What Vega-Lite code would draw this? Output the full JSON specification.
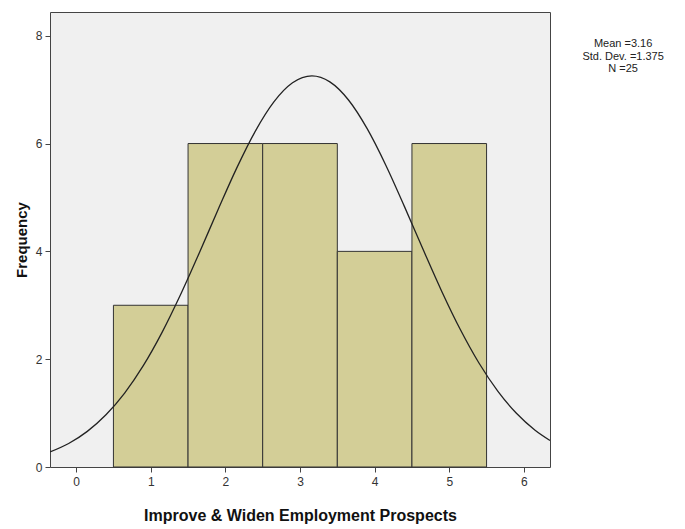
{
  "$schema": "https://vega.github.io/schema/vega-lite/v6.json",
  "width": 500,
  "height": 455,
  "autosize": {"type": "none"},
  "padding": {"left": 50, "top": 12, "right": 135, "bottom": 62},
  "background": "white",
  "config": {
    "view": {"fill": "#F0F0F0", "stroke": "#444444", "strokeWidth": 1},
    "font": "Liberation Sans",
    "axis": {"grid": false, "domain": false, "tickColor": "#444444", "tickSize": 5, "labelColor": "#333333", "labelFontSize": 12, "labelFont": "Liberation Sans", "titleFont": "Liberation Sans", "titleFontWeight": "bold", "titleColor": "#111111", "format": "d"}
  },
  "datasets": {
    "bins": [
      {"bin_start": 0.5, "bin_end": 1.5, "count": 3},
      {"bin_start": 1.5, "bin_end": 2.5, "count": 6},
      {"bin_start": 2.5, "bin_end": 3.5, "count": 6},
      {"bin_start": 3.5, "bin_end": 4.5, "count": 4},
      {"bin_start": 4.5, "bin_end": 5.5, "count": 6}
    ],
    "curve": [
      {"x": -0.35, "y": 0.279}, {"x": -0.1, "y": 0.436}, {"x": 0.15, "y": 0.661}, {"x": 0.4, "y": 0.968},
      {"x": 0.65, "y": 1.371}, {"x": 0.9, "y": 1.879}, {"x": 1.15, "y": 2.492}, {"x": 1.4, "y": 3.198},
      {"x": 1.65, "y": 3.969}, {"x": 1.9, "y": 4.767}, {"x": 2.15, "y": 5.539}, {"x": 2.4, "y": 6.226},
      {"x": 2.65, "y": 6.772}, {"x": 2.9, "y": 7.126}, {"x": 3.16, "y": 7.254}, {"x": 3.4, "y": 7.144},
      {"x": 3.65, "y": 6.808}, {"x": 3.9, "y": 6.276}, {"x": 4.15, "y": 5.598}, {"x": 4.4, "y": 4.830},
      {"x": 4.65, "y": 4.033}, {"x": 4.9, "y": 3.257}, {"x": 5.15, "y": 2.545}, {"x": 5.4, "y": 1.924},
      {"x": 5.65, "y": 1.408}, {"x": 5.9, "y": 0.996}, {"x": 6.15, "y": 0.682}, {"x": 6.35, "y": 0.492}
    ],
    "stats": [
      {"label": ["Mean =3.16", "Std. Dev. =1.375", "N =25"]}
    ]
  },
  "layer": [
    {
      "data": {"name": "bins"},
      "mark": {"type": "rect", "fill": "#D3CE97", "stroke": "#333333", "strokeWidth": 1},
      "encoding": {
        "x": {"field": "bin_start", "type": "quantitative",
              "scale": {"domain": [-0.35, 6.35], "nice": false, "zero": false},
              "axis": {"values": [0, 1, 2, 3, 4, 5, 6], "title": "Improve & Widen Employment Prospects", "titleFontSize": 16, "titlePadding": 20, "labelPadding": 4}},
        "x2": {"field": "bin_end"},
        "y": {"field": "count", "type": "quantitative",
              "scale": {"domain": [0, 8.44], "nice": false},
              "axis": {"values": [0, 2, 4, 6, 8], "title": "Frequency", "titleFontSize": 15, "titlePadding": 6, "labelPadding": 3}},
        "y2": {"datum": 0}
      }
    },
    {
      "data": {"name": "curve"},
      "mark": {"type": "line", "color": "#222222", "strokeWidth": 1.3, "interpolate": "monotone", "clip": true},
      "encoding": {
        "x": {"field": "x", "type": "quantitative"},
        "y": {"field": "y", "type": "quantitative"}
      }
    },
    {
      "data": {"name": "stats"},
      "mark": {"type": "text", "clip": false, "fontSize": 11, "lineHeight": 12.5, "baseline": "top", "align": "center", "color": "#222222", "font": "Liberation Sans"},
      "encoding": {
        "x": {"datum": 7.33, "type": "quantitative"},
        "y": {"datum": 7.95, "type": "quantitative"},
        "text": {"field": "label"}
      }
    }
  ]
}
